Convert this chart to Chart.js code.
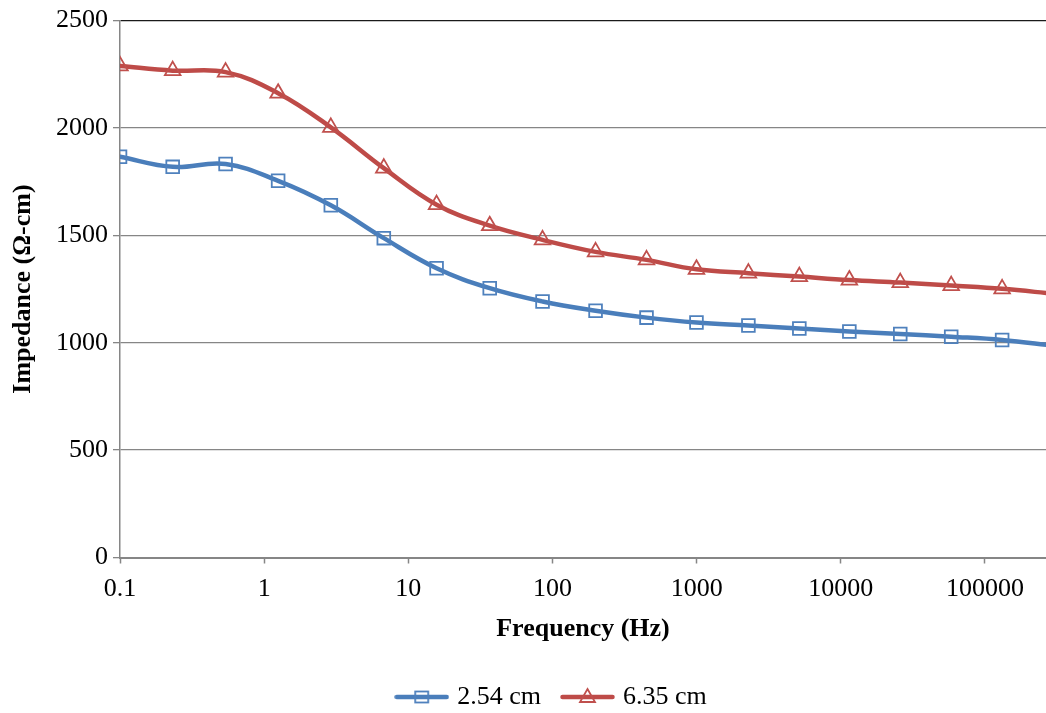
<!DOCTYPE html>
<html>
<head>
<meta charset="utf-8">
<title>Impedance vs Frequency</title>
<script src="https://cdn.jsdelivr.net/npm/chart.js@4/dist/chart.umd.min.js"></script>
<style>
  html, body { margin: 0; padding: 0; background: #ffffff; overflow: hidden; }
  #wrap { width: 1046px; height: 713px; position: relative; }
</style>
</head>
<body>
<div id="wrap"><canvas id="chart" width="1046" height="713"></canvas></div>
<script>
// Measured frequencies (Hz); the last sweep point lies just past the axis end
const frequencyHz = [0.1, 0.232, 0.54, 1.25, 2.9, 6.76, 15.7, 36.7, 85.3, 199, 449, 997,
                     2285, 5155, 11460, 25840, 58300, 131500, 300000];
// Impedance (Ω-cm) for the two electrode spacings
const impedance254 = [1866, 1819, 1832, 1754, 1640, 1487, 1347, 1254, 1192, 1149, 1117, 1094,
                      1080, 1066, 1052, 1041, 1028, 1013, 986];
const impedance635 = [2289, 2267, 2260, 2162, 2003, 1813, 1643, 1545, 1479, 1423, 1386, 1342,
                      1324, 1308, 1292, 1280, 1266, 1251, 1228];
const seriesLabels = ['2.54 cm', '6.35 cm'];
// Axis ticks
const freqTicks = [0.1, 1, 10, 100, 1000, 10000, 100000];
const impedanceTicks = [0, 500, 1000, 1500, 2000, 2500];

const X_MIN = 0.1, X_MAX = 265000;
const BLUE_LINE = '#4A7EBB', BLUE_MARK = '#4F81BD';
const RED_LINE = '#BE4B48', RED_MARK = '#C0504D';
const GRID = '#868686';
const FONT = "'Liberation Serif', 'Times New Roman', serif";

Chart.defaults.font.family = FONT;
Chart.defaults.font.size = 26;
Chart.defaults.color = '#000000';

// Legend swatch: a short line with the series marker on it
function swatch(lineColor, markColor, style) {
  const c = document.createElement('canvas');
  c.width = 55; c.height = 22;
  const g = c.getContext('2d');
  g.strokeStyle = lineColor; g.lineWidth = 4.5; g.lineCap = 'round';
  g.beginPath(); g.moveTo(2.5, 11); g.lineTo(52.5, 11); g.stroke();
  g.strokeStyle = markColor; g.lineWidth = 1.8;
  if (style === 'rect') {
    g.strokeRect(27.5 - 6.5, 11 - 5.5, 13, 11);
  } else {
    g.beginPath(); g.moveTo(27.5, 3); g.lineTo(35, 16); g.lineTo(20, 16); g.closePath(); g.stroke();
  }
  return c;
}
const swatches = [swatch(BLUE_LINE, BLUE_MARK, 'rect'), swatch(RED_LINE, RED_MARK, 'triangle')];

const toPoints = ys => frequencyHz.map((f, i) => ({ x: f, y: ys[i] }));
const markerRadius = ctx => (frequencyHz[ctx.dataIndex] > X_MAX ? 0 : 9);
const plainNumber = v => String(v);

// Nudges the bottom legend to its place under the plot
const legendPlacement = {
  id: 'legendPlacement',
  afterLayout(chart) {
    const lg = chart.legend;
    if (!lg) return;
    lg.left += 30; lg.right += 30;
    lg.top += 7; lg.bottom += 7;
  }
};

new Chart(document.getElementById('chart'), {
  type: 'line',
  data: {
    datasets: [
      {
        label: seriesLabels[0],
        data: toPoints(impedance254),
        borderColor: BLUE_LINE,
        borderWidth: 4.5,
        borderCapStyle: 'round',
        borderJoinStyle: 'round',
        tension: 0.4,
        pointStyle: 'rect',
        pointRadius: markerRadius,
        pointBorderColor: BLUE_MARK,
        pointBorderWidth: 1.8,
        pointBackgroundColor: 'rgba(0,0,0,0)',
        fill: false
      },
      {
        label: seriesLabels[1],
        data: toPoints(impedance635),
        borderColor: RED_LINE,
        borderWidth: 4.5,
        borderCapStyle: 'round',
        borderJoinStyle: 'round',
        tension: 0.4,
        pointStyle: 'triangle',
        pointRadius: markerRadius,
        pointBorderColor: RED_MARK,
        pointBorderWidth: 1.8,
        pointBackgroundColor: 'rgba(0,0,0,0)',
        fill: false
      }
    ]
  },
  options: {
    responsive: false,
    animation: false,
    devicePixelRatio: 1,
    layout: { autoPadding: false, padding: { top: 20.5, right: 0, bottom: 0, left: 0 } },
    plugins: {
      tooltip: { enabled: false },
      legend: {
        position: 'bottom',
        labels: {
          usePointStyle: true,
          pointStyleWidth: 45,
          padding: 24,
          color: '#000000',
          font: { size: 26, family: FONT },
          generateLabels(chart) {
            return chart.data.datasets.map((ds, i) => ({
              text: ds.label,
              pointStyle: swatches[i],
              fillStyle: 'rgba(0,0,0,0)',
              strokeStyle: 'rgba(0,0,0,0)',
              lineWidth: 0,
              fontColor: '#000000',
              hidden: false,
              datasetIndex: i
            }));
          }
        }
      }
    },
    scales: {
      x: {
        type: 'logarithmic',
        min: X_MIN,
        max: X_MAX,
        afterBuildTicks(scale) { scale.ticks = freqTicks.map(v => ({ value: v })); },
        afterFit(scale) {
          scale.height = 95.5;
          scale.paddingLeft = 0;
          scale.paddingRight = 0;
        },
        ticks: {
          autoSkip: false,
          maxRotation: 0,
          padding: 10,
          font: { size: 26, family: FONT },
          color: '#000000',
          callback: plainNumber
        },
        grid: {
          drawOnChartArea: false,
          drawTicks: true,
          tickLength: 6,
          tickColor: GRID,
          tickWidth: 1.5
        },
        border: { display: true, color: GRID, width: 2 },
        title: {
          display: true,
          text: 'Frequency (Hz)',
          font: { size: 26, weight: 'bold', family: FONT },
          color: '#000000',
          padding: { top: 0, bottom: 8.4 }
        }
      },
      y: {
        min: impedanceTicks[0],
        max: impedanceTicks[impedanceTicks.length - 1],
        afterBuildTicks(scale) { scale.ticks = impedanceTicks.map(v => ({ value: v })); },
        afterFit(scale) { scale.width = 120; },
        ticks: {
          padding: 5,
          font: { size: 26, family: FONT },
          color: '#000000',
          callback: plainNumber
        },
        grid: {
          drawOnChartArea: true,
          drawTicks: true,
          tickLength: 7,
          color: ctx => (ctx.tick && ctx.tick.value === 2500 ? '#1a1a1a' : GRID),
          lineWidth: 1.3,
          tickColor: GRID,
          tickWidth: 1.3
        },
        border: { display: true, color: GRID, width: 1.5 },
        title: {
          display: true,
          text: 'Impedance (Ω-cm)',
          font: { size: 26, weight: 'bold', family: FONT },
          color: '#000000',
          padding: { top: 8, bottom: 0 }
        }
      }
    }
  },
  plugins: [legendPlacement]
});
</script>
</body>
</html>
